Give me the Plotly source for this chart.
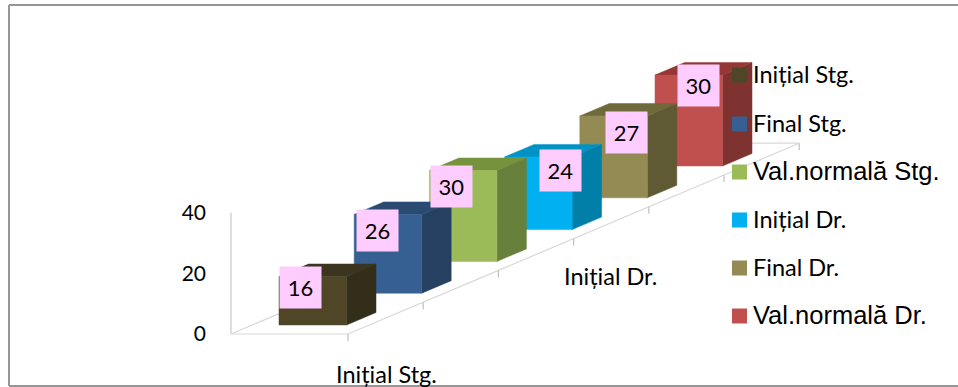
import plotly.graph_objects as go

W, H = 958, 387

# ---- data ----
categories = ["Inițial Stg.", "Final Stg.", "Val.normală Stg.", "Inițial Dr.", "Final Dr.", "Val.normală Dr."]
values = [16, 26, 30, 24, 27, 30]
y_ticks = [0, 20, 40]
front_colors = ["#4F4628", "#376092", "#9BBB59", "#00B0F0", "#948A54", "#C0504D"]
side_colors = ["#332E19", "#254061", "#67803B", "#0080A8", "#5F5A33", "#7E3330"]
top_colors = ["#3B3520", "#2A4A72", "#76923C", "#0092C4", "#6F6A3C", "#953735"]
label_shift = [(-12, -10.5), (-10.5, -16.5), (-11.5, -16), (22.5, -13.5), (12.5, -16.5), (10, -10.5)]

# ---- oblique projection, in axis units ----
PX_PER_VALUE = 3.03
STEP_X, STEP_Y = 75.2, 31.8
BAR_W = 67.5
DEPTH_X, DEPTH_Y = 29.5, 12.5
X0, Y0 = 279.0, 334.0          # pixel of the front-left bar column / value 0 plane
FLOOR_OFFSET = 9.0             # bar base sits above the floor's front edge


def proj(i, dx_px=0.0, v=0.0, dy_px=0.0):
    """Category position i + pixel offset; value v + pixel offset -> axis coords."""
    return i + dx_px / STEP_X, v + (dy_px + i * STEP_Y + FLOOR_OFFSET) / PX_PER_VALUE


def poly(points):
    xs, ys = zip(*points)
    return list(xs) + [xs[0]], list(ys) + [ys[0]]


fig = go.Figure()


def floor_line(a, b, color="#D9D9D9", width=1.2):
    fig.add_trace(go.Scatter(x=[a[0], b[0]], y=[a[1], b[1]], mode="lines",
                             line=dict(color=color, width=width),
                             hoverinfo="skip", showlegend=False))


n = len(values)
corner_front_l = proj(0, 231 - X0, 0, -FLOOR_OFFSET)
corner_front_r = proj(0, 348 - X0, 0, -FLOOR_OFFSET)
corner_back_r = proj(n, 348 - X0, 0, -FLOOR_OFFSET)
corner_back_l = proj(n, 231 - X0, 0, -FLOOR_OFFSET)

# value-axis line, floor outline and category ticks
floor_line(corner_front_l, (corner_front_l[0], y_ticks[-1]), "#C8C8C8")
floor_line(corner_front_l, corner_front_r)
floor_line(corner_front_r, corner_back_r)
floor_line(corner_front_l, corner_back_l)
floor_line(corner_back_l, corner_back_r)
for i in range(n + 1):
    px, py = proj(i, 348 - X0, 0, -FLOOR_OFFSET)
    floor_line((px, py), (px, py - 7 / PX_PER_VALUE), "#BFBFBF")

# bars, back to front
for i in reversed(range(n)):
    v = values[i]
    fl_b = proj(i, 0, 0)
    fr_b = proj(i, BAR_W, 0)
    fl_t = proj(i, 0, v)
    fr_t = proj(i, BAR_W, v)
    br_b = proj(i, BAR_W + DEPTH_X, 0, DEPTH_Y)
    br_t = proj(i, BAR_W + DEPTH_X, v, DEPTH_Y)
    bl_t = proj(i, DEPTH_X, v, DEPTH_Y)
    faces = [
        ([fr_b, br_b, br_t, fr_t], side_colors[i]),
        ([fl_t, fr_t, br_t, bl_t], top_colors[i]),
        ([fl_b, fr_b, fr_t, fl_t], front_colors[i]),
    ]
    for pts, col in faces:
        xs, ys = poly(pts)
        fig.add_trace(go.Scatter(x=xs, y=ys, mode="lines", fill="toself",
                                 fillcolor=col, line=dict(color=col, width=0.5),
                                 name=categories[i], showlegend=False, hoverinfo="name"))

# value labels
annotations = []
for i, v in enumerate(values):
    sx, sy = label_shift[i]
    lx, ly = proj(i, BAR_W / 2 + sx, v, sy)
    annotations.append(dict(x=lx, y=ly, xref="x", yref="y", text=str(v), showarrow=False,
                            xanchor="center", yanchor="middle", borderpad=0,
                            font=dict(family="Lato", size=22, color="#000000"),
                            bgcolor="#FFCCFF", width=41, height=41, align="center", valign="middle"))


def paper_x(px):
    return px / W


def paper_y(py):
    return 1 - py / H


# category labels
annotations.append(dict(x=paper_x(386), y=paper_y(374), xref="paper", yref="paper", text=categories[0],
                        xanchor="center", yanchor="middle",
                        showarrow=False, font=dict(family="Lato", size=23.5, color="#000000")))
annotations.append(dict(x=paper_x(610), y=paper_y(276), xref="paper", yref="paper", text=categories[3],
                        xanchor="center", yanchor="middle",
                        showarrow=False, font=dict(family="Lato", size=23.5, color="#000000")))

# hand-built legend (entries use two different fonts in the original)
legend_y = [75, 124, 172, 220, 268, 316]
legend_fonts = [("Lato", 23.5), ("Lato", 23.5), ("Liberation Sans", 25.5), ("Lato", 23.5), ("Lato", 23.5), ("Liberation Sans", 25.5)]
shapes = []
for name, col, ly, (fam, size) in zip(categories, front_colors, legend_y, legend_fonts):
    shapes.append(dict(type="rect", xref="paper", yref="paper", x0=paper_x(732), x1=paper_x(747),
                       y0=paper_y(ly + 7.5), y1=paper_y(ly - 7.5), fillcolor=col, line_width=0))
    annotations.append(dict(x=paper_x(751), y=paper_y(ly - 1), xref="paper", yref="paper", text=name,
                            xanchor="left", yanchor="middle", showarrow=False,
                            font=dict(family=fam, size=size, color="#000000")))

# outer frame
for x0, y0, x1, y1 in [(9, 5, 958, 5), (9, 5, 9, 386), (9, 386, 958, 386)]:
    shapes.append(dict(type="line", xref="paper", yref="paper", x0=paper_x(x0), x1=paper_x(x1),
                       y0=paper_y(y0), y1=paper_y(y1), line=dict(color="#969696", width=2)))

fig.update_layout(
    width=W, height=H, margin=dict(l=0, r=0, t=0, b=0),
    paper_bgcolor="#FFFFFF", plot_bgcolor="#FFFFFF", showlegend=False,
    shapes=shapes, annotations=annotations,
    xaxis=dict(range=[-X0 / STEP_X, (W - X0) / STEP_X], visible=False, fixedrange=True),
    yaxis=dict(range=[(Y0 - H) / PX_PER_VALUE, Y0 / PX_PER_VALUE], tickvals=y_ticks,
               anchor="free", position=231 / W, showgrid=False, zeroline=False, showline=False,
               ticks="", ticklabelstandoff=25, tickfont=dict(family="Lato", size=21, color="#000000"),
               fixedrange=True),
)

fig.write_html("out.html", config=dict(displayModeBar=False),
               post_script="document.body.style.margin='0';document.body.style.overflow='hidden';")
